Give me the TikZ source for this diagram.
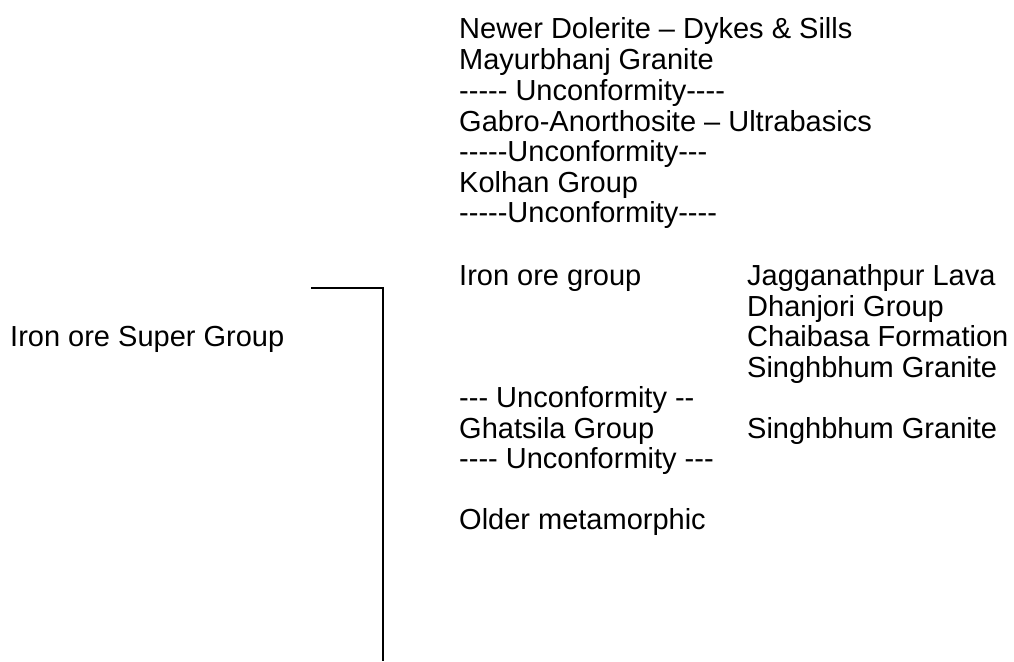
\documentclass[tikz,border=0pt]{standalone}
\usepackage{fontspec}
\setmainfont{Liberation Sans}[Ligatures=TeXOff]
\begin{document}
\begin{tikzpicture}[x=1pt,y=-1pt,
  lbl/.style={anchor=base west,inner sep=0pt,font=\fontsize{29}{31}\selectfont},
  bracket/.style={line width=2pt}]
\useasboundingbox (0,0) rectangle (1014,661);
\node[lbl] (l1) at (459,39) {Newer Dolerite – Dykes \& Sills};
\node[lbl] (l2) at (459,70) {Mayurbhanj Granite};
\node[lbl] (l3) at (459,100) {----- Unconformity----};
\node[lbl] (l4) at (459,131) {Gabro-Anorthosite – Ultrabasics};
\node[lbl] (l5) at (459,161) {-----Unconformity---};
\node[lbl] (l6) at (459,192) {Kolhan Group};
\node[lbl] (l7) at (459,222) {-----Unconformity----};
\node[lbl] (iog) at (459,285) {Iron ore group};
\node[lbl] (r1) at (747,285) {Jagganathpur Lava};
\node[lbl] (r2) at (747,316) {Dhanjori Group};
\node[lbl] (r3) at (747,346) {Chaibasa Formation};
\node[lbl] (r4) at (747,377) {Singhbhum Granite};
\node[lbl] (u1) at (459,407) {--- Unconformity --};
\node[lbl] (gg) at (459,438) {Ghatsila Group};
\node[lbl] (r5) at (747,438) {Singhbhum Granite};
\node[lbl] (u2) at (459,468) {---- Unconformity ---};
\node[lbl] (om) at (459,529) {Older metamorphic};
\node[lbl] (sg) at (10,346) {Iron ore Super Group};
\coordinate (bt) at (311,288);
\coordinate (bb) at (383,661);
\draw[bracket] (bt) -| (bb);
\end{tikzpicture}
\end{document}
